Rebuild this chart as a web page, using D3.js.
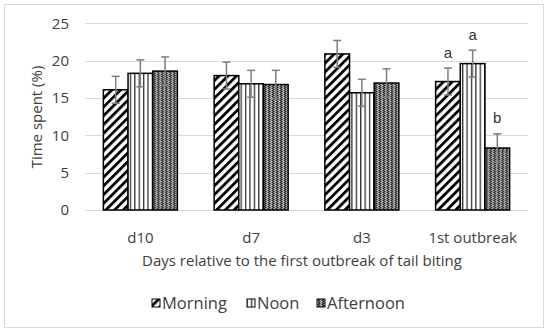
<!DOCTYPE html>
<html><head><meta charset="utf-8">
<script src="https://cdn.jsdelivr.net/npm/d3@7"></script>
<style>body{margin:0;background:#fff}svg{display:block}</style>
</head><body>
<script>
const categories = ["d10","d7","d3","1st outbreak"];
const seriesNames = ["Morning","Noon","Afternoon"];
const morning = [16.1,18.0,20.9,17.2];
const noon = [18.3,16.9,15.7,19.6];
const afternoon = [18.6,16.8,17.0,8.3];
const morningErr = [1.8,1.8,1.8,1.8];
const noonErr = [1.8,1.8,1.8,1.8];
const afternoonErr = [1.9,1.9,1.9,1.9];
const letters = [null,null,null,["a","a","b"]];
const yTicks = [0,5,10,15,20,25];

const W=550,H=334;
const font = "'Open Sans', sans-serif";
const svg = d3.select("body").append("svg").attr("width",W).attr("height",H);
const defs = svg.append("defs");

// patterns
const p1 = defs.append("pattern").attr("id","pMorning").attr("patternUnits","userSpaceOnUse")
  .attr("width",6.2).attr("height",6.2).attr("patternTransform","rotate(45)");
p1.append("rect").attr("width",6.2).attr("height",6.2).attr("fill","#fff");
p1.append("rect").attr("x",0).attr("width",2.8).attr("height",6.2).attr("fill","#000");

const p2 = defs.append("pattern").attr("id","pNoon").attr("patternUnits","userSpaceOnUse")
  .attr("width",4.4).attr("height",4);
p2.append("rect").attr("width",4.4).attr("height",4).attr("fill","#fff");
p2.append("rect").attr("x",0).attr("width",1.3).attr("height",4).attr("fill","#333");

const p3 = defs.append("pattern").attr("id","pAfternoon").attr("patternUnits","userSpaceOnUse")
  .attr("width",4).attr("height",4);
p3.append("rect").attr("width",4).attr("height",4).attr("fill","#6a6a6a");
[[0,0],[2,0],[1,1],[3,1],[0,2],[2,2],[1,3],[3,3]].forEach(([x,y],i)=>{
  p3.append("rect").attr("x",x).attr("y",y).attr("width",1).attr("height",1).attr("fill", i%2? "#222":"#bbb");
});
p3.append("rect").attr("x",1).attr("y",1).attr("width",1).attr("height",1).attr("fill","#fff");

const patterns = ["url(#pMorning)","url(#pNoon)","url(#pAfternoon)"];

// border
svg.append("rect").attr("x",4.5).attr("y",4.5).attr("width",539).attr("height",323)
  .attr("fill","#fff").attr("stroke","#d9d9d9").attr("stroke-width",1);

const x0 = d3.scaleBand().domain(categories).range([85,528]).paddingInner(0).paddingOuter(0);
const x1 = d3.scaleBand().domain(seriesNames).range([0,74]);
const y = d3.scaleLinear().domain([0,25]).range([210,23.3]);

// grid
svg.append("g").selectAll("line").data(yTicks).join("line")
  .attr("x1",85).attr("x2",528).attr("y1",d=>Math.round(y(d))+0.5).attr("y2",d=>Math.round(y(d))+0.5)
  .attr("stroke","#d9d9d9").attr("stroke-width",1);

// y axis labels
const yAxis = d3.axisLeft(y).tickValues(yTicks).tickSize(0).tickPadding(0);
const yg = svg.append("g").attr("transform","translate(69,0)").call(yAxis);
yg.select(".domain").remove();
yg.selectAll("text").attr("font-family",font).attr("font-size",15).attr("fill","#404040");

// x axis labels
const xAxis = d3.axisBottom(x0).tickSize(0).tickPadding(0);
const xg = svg.append("g").attr("transform","translate(0,232)").call(xAxis);
xg.select(".domain").remove();
xg.selectAll("text").attr("font-family",font).attr("font-size",15).attr("fill","#404040");

const data = categories.map((c,i)=>({cat:c, vals:[
  {s:"Morning",v:morning[i],e:morningErr[i]},
  {s:"Noon",v:noon[i],e:noonErr[i]},
  {s:"Afternoon",v:afternoon[i],e:afternoonErr[i]}], letters:letters[i]}));

const groups = svg.append("g").selectAll("g").data(data).join("g")
  .attr("transform",d=>`translate(${x0(d.cat)+(x0.bandwidth()-74)/2},0)`);

groups.selectAll("rect").data(d=>d.vals).join("rect")
  .attr("x",d=>x1(d.s)).attr("y",d=>y(d.v)).attr("width",x1.bandwidth()).attr("height",d=>y(0)-y(d.v))
  .attr("fill",(d,i)=>patterns[i]).attr("stroke","#000").attr("stroke-width",1.5);

// error bars
groups.each(function(d){
  const g=d3.select(this);
  d.vals.forEach(v=>{
    const cx = x1(v.s)+x1.bandwidth()/2;
    const col="#7f7f7f";
    g.append("line").attr("x1",cx).attr("x2",cx).attr("y1",y(v.v+v.e)).attr("y2",y(v.v-v.e)).attr("stroke",col).attr("stroke-width",1.5);
    g.append("line").attr("x1",cx-4).attr("x2",cx+4).attr("y1",y(v.v+v.e)).attr("y2",y(v.v+v.e)).attr("stroke",col).attr("stroke-width",1.5);
    g.append("line").attr("x1",cx-4).attr("x2",cx+4).attr("y1",y(v.v-v.e)).attr("y2",y(v.v-v.e)).attr("stroke",col).attr("stroke-width",1.5);
  });
  if(d.letters){
    d.vals.forEach((v,i)=>{
      g.append("text").attr("x",x1(v.s)+x1.bandwidth()/2).attr("y",y(v.v+v.e)-10.5)
        .attr("text-anchor","middle").attr("font-family","'Liberation Sans', Arial, sans-serif")
        .attr("font-size",15).attr("fill","#333").text(d.letters[i]);
    });
  }
});

// axis titles
svg.append("text").attr("transform","translate(42,117) rotate(-90)").attr("text-anchor","middle")
  .attr("font-family",font).attr("font-size",15).attr("fill","#404040").text("Time spent (%)");
svg.append("text").attr("x",302).attr("y",265.5).attr("text-anchor","middle")
  .attr("font-family",font).attr("font-size",15).attr("fill","#404040").text("Days relative to the first outbreak of tail biting");

// legend
const legX=[152,247,317];
seriesNames.forEach((s,i)=>{
  svg.append("rect").attr("x",legX[i]).attr("y",299).attr("width",8).attr("height",8)
    .attr("fill",patterns[i]).attr("stroke","#000").attr("stroke-width",1);
  svg.append("text").attr("x",legX[i]+10).attr("y",308.5).attr("font-family",font).attr("font-size",16.5)
    .attr("fill","#404040").text(s);
});
</script>
</body></html>
